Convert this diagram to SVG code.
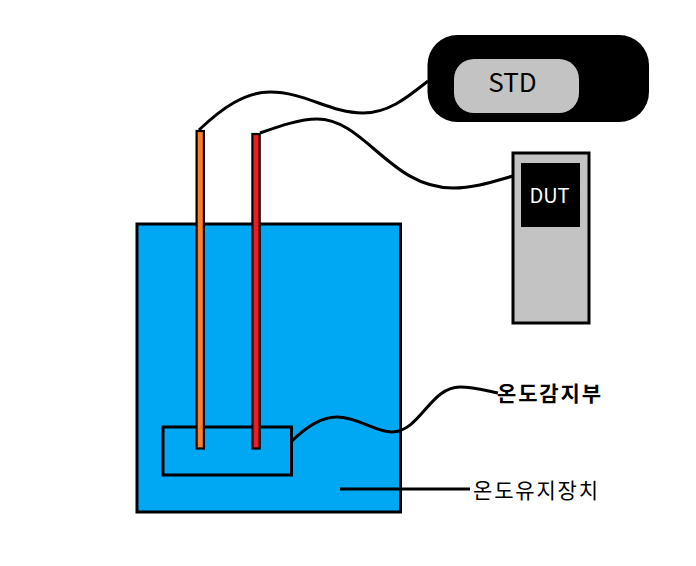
<svg xmlns="http://www.w3.org/2000/svg" width="696" height="566" viewBox="0 0 696 566">
<style>
.l{fill:none;stroke:#000;stroke-width:3}
.b{stroke:#000;stroke-width:3}
.p{stroke:#000;stroke-width:2.2}
.t{font-family:"Noto Sans CJK KR","Noto Sans",sans-serif;text-anchor:middle}
</style>
<rect width="696" height="566" fill="#fff"/>
<g id="tank"><rect class="b" x="137" y="224" width="263.500" height="288" fill="#00a8f3"/></g>
<g id="sensing"><rect class="l" x="163" y="427" width="128.500" height="48"/></g>
<g id="probe-std"><rect class="p" x="196.600" y="131" width="7.300" height="317.500" fill="#ff7f27"/></g>
<g id="probe-dut"><rect class="p" x="252.400" y="134" width="7.300" height="314.500" fill="#ed1c24"/></g>
<g id="std"><rect x="427.500" y="35" width="221.500" height="87" rx="30" fill="#000"/><rect x="454" y="59" width="125" height="54" rx="20" fill="#c3c3c3"/><text class="t" x="512.500" y="92" font-size="26">STD</text></g>
<g id="dut"><rect class="b" x="513" y="153" width="76" height="170" fill="#c3c3c3"/><rect x="521" y="163" width="59" height="64" fill="#000"/><text class="t" x="549.500" y="203" font-size="20" fill="#fff">DUT</text></g>
<g id="connectors">
<path class="l" d="M199 130C222 108 245 92 270 92C305 92 330 113 363 113C390 113 410 95 428 81"/>
<path class="l" d="M260 133C280 126 300 119 317 119C365 119 390 188 453 188C475 188 495 181 513 176"/>
<path class="l" d="M292 441C305 428 320 417 337 417C358 417 375 432 392 432C420 432 430 387 460 387C475 387 487 391 498 393"/>
<path class="l" d="M340 489H470"/>
</g>
<g id="label-sense"><text class="t" x="549" y="401" font-size="21" font-weight="700" textLength="104" lengthAdjust="spacing">온도감지부</text></g>
<g id="label-hold"><text class="t" x="535.500" y="498" font-size="21" textLength="125" lengthAdjust="spacing">온도유지장치</text></g>
</svg>
